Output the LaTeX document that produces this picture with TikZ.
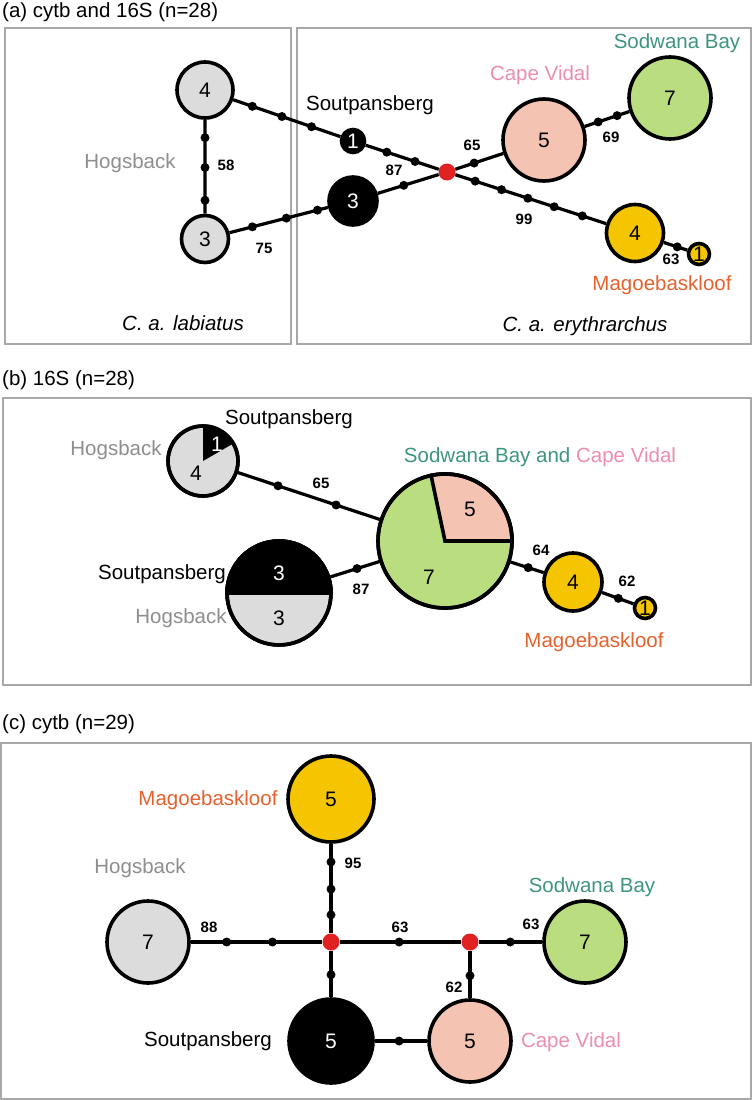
\documentclass[tikz,border=0pt]{standalone}
\usepackage{fontspec}
\setmainfont{Liberation Sans}
\definecolor{hogfill}{HTML}{DCDCDC}
\definecolor{hogtext}{HTML}{8E8E8E}
\definecolor{cvfill}{HTML}{F4C3B2}
\definecolor{cvtext}{HTML}{EC8DB2}
\definecolor{sbfill}{HTML}{BADD80}
\definecolor{sbtext}{HTML}{3E9580}
\definecolor{magfill}{HTML}{F4C500}
\definecolor{magtext}{HTML}{E5622E}
\definecolor{medred}{HTML}{E02222}
\definecolor{boxgray}{HTML}{A8A8A8}
\newcommand{\muts}[3]{\foreach \p [count=\i] in {#3} {\path (#1.center) -- (#2.center) node[mut,pos=\p] (#1-#2-\i) {};}}
\begin{document}
\begin{tikzpicture}[x=1pt,y=1pt,
  hap/.style={circle,draw,line width=3.6pt,inner sep=0pt,font=\fontsize{21}{25}\selectfont},
  num/.style={inner sep=0pt,font=\fontsize{21}{25}\selectfont},
  med/.style={circle,fill=medred,inner sep=0pt,minimum size=17pt},
  mut/.style={circle,fill=black,inner sep=0pt,minimum size=9pt},
  edge/.style={line width=3.2pt},
  ring/.style={line width=3.6pt},
  elab/.style={inner sep=0pt,font=\fontsize{15}{18}\selectfont\bfseries},
  site/.style={inner sep=0pt,font=\fontsize{20.5}{24}\selectfont},
  panel/.style={draw=boxgray,line width=1.2pt}]
\useasboundingbox (0,0) rectangle (752,-1100);
\fill[white] (0,0) rectangle (752,-1100);

\node[site,anchor=west] (ta) at (2,-12) {(a) cytb and 16S (n=28)};
\draw[panel] (5,-28) rectangle (291,-344);
\draw[panel] (297,-28) rectangle (751,-344);
\node[hap,fill=hogfill,minimum size=56pt] (h4) at (205,-90) {4};
\node[hap,fill=hogfill,minimum size=47pt] (h3) at (205,-239) {3};
\node[hap,fill=black,text=white,minimum size=23pt] (s1) at (353,-141) {1};
\node[hap,fill=black,text=white,minimum size=48pt] (s3) at (353,-201) {3};
\node[med] (ra) at (447,-172) {};
\node[hap,fill=cvfill,minimum size=82pt] (cv) at (544,-140) {5};
\node[hap,fill=sbfill,minimum size=82pt] (sb) at (670,-98) {7};
\node[hap,fill=magfill,minimum size=57pt] (m4) at (635,-233) {4};
\node[hap,fill=magfill,minimum size=21pt] (m1) at (699,-254) {1};
\draw[edge] (h4) -- (s1) -- (ra) -- (cv) -- (sb);
\draw[edge] (h4) -- (h3) -- (s3) -- (ra) -- (m4) -- (m1);
\muts{h4}{s1}{.32,.52,.72}
\muts{s1}{ra}{.36,.66}
\muts{h4}{h3}{.32,.52,.74}
\muts{h3}{s3}{.32,.55,.76}
\muts{s3}{ra}{.54}
\muts{ra}{cv}{.28}
\muts{cv}{sb}{.43,.58}
\muts{ra}{m4}{.15,.29,.43,.57,.72}
\muts{m4}{m1}{.66}
\node[elab] (a58) at (226,-165) {58};
\node[elab] (a75) at (264,-248) {75};
\node[elab] (a87) at (394,-170) {87};
\node[elab] (a65) at (472,-145) {65};
\node[elab] (a69) at (611,-137) {69};
\node[elab] (a99) at (524,-219) {99};
\node[elab] (a63) at (671,-259) {63};
\node[site,text=hogtext] (ahog) at (130,-163) {Hogsback};
\node[site] (asou) at (370,-105) {Soutpansberg};
\node[site,text=cvtext] (acv) at (540,-75) {Cape Vidal};
\node[site,text=sbtext] (asb) at (677,-43) {Sodwana Bay};
\node[site,text=magtext] (amag) at (662,-285) {Magoebaskloof};
\node[site,font=\fontsize{20.5}{24}\selectfont\itshape] (alab) at (183,-323) {C. a. labiatus};
\node[site,font=\fontsize{20.5}{24}\selectfont\itshape] (aery) at (585,-326) {C. a. erythrarchus};

\node[site,anchor=west] (tb) at (2,-380) {(b) 16S (n=28)};
\draw[panel] (3,-398) rectangle (751,-685);
\node[hap,fill=hogfill,minimum size=70pt] (pie) at (203,-461) {};
\fill (pie.center) -- ++(90:35pt) arc[start angle=90,end angle=30,radius=35pt] -- cycle;
\draw[ring] (pie.center) circle[radius=35pt];
\node[num,text=white] (pie1) at (217,-444) {1};
\node[num] (pie4) at (196,-473) {4};
\node[hap,fill=hogfill,minimum size=104pt] (half) at (279,-593) {};
\filldraw[fill=black,line width=3.6pt] ([xshift=-52pt]half.center) -- ([xshift=52pt]half.center) arc[start angle=0,end angle=180,radius=52pt] -- cycle;
\draw[ring] (half.center) circle[radius=52pt];
\node[num,text=white] (half3a) at (279,-573) {3};
\node[num] (half3b) at (279,-618) {3};
\node[hap,fill=sbfill,minimum size=134pt] (big) at (445,-541) {};
\filldraw[fill=cvfill,line width=3.6pt] (big.center) -- ++(0:67pt) arc[start angle=0,end angle=102,radius=67pt] -- cycle;
\draw[ring] (big.center) circle[radius=67pt];
\node[num] (big5) at (470,-509) {5};
\node[num] (big7) at (429,-577) {7};
\node[hap,fill=magfill,minimum size=58pt] (bm4) at (573,-582) {4};
\node[hap,fill=magfill,minimum size=21pt] (bm1) at (645,-608) {1};
\draw[edge] (pie) -- (big) -- (bm4) -- (bm1);
\draw[edge] (half) -- (big);
\muts{pie}{big}{.31,.55}
\muts{half}{big}{.47}
\muts{big}{bm4}{.65}
\muts{bm4}{bm1}{.63}
\node[elab] (b65) at (321,-483) {65};
\node[elab] (b87) at (361,-589) {87};
\node[elab] (b64) at (541,-550) {64};
\node[elab] (b62) at (627,-581) {62};
\node[site] (bsou1) at (289,-419) {Soutpansberg};
\node[site,text=hogtext] (bhog1) at (116,-450) {Hogsback};
\node[site] (bsou2) at (162,-574) {Soutpansberg};
\node[site,text=hogtext] (bhog2) at (181,-618) {Hogsback};
\node[site] (bsbcv) at (540,-457) {\textcolor{sbtext}{Sodwana Bay and }\textcolor{cvtext}{Cape Vidal}};
\node[site,text=magtext] (bmag) at (594,-642) {Magoebaskloof};

\node[site,anchor=west] (tc) at (2,-724) {(c) cytb (n=29)};
\draw[panel] (1,-743) rectangle (751,-1099);
\node[hap,fill=magfill,minimum size=86pt] (cm5) at (331,-799) {5};
\node[hap,fill=hogfill,minimum size=82pt] (ch7) at (148,-942) {7};
\node[med] (r1) at (331,-942) {};
\node[med] (r2) at (470,-942) {};
\node[hap,fill=sbfill,minimum size=82pt] (csb) at (585,-942) {7};
\node[hap,fill=black,text=white,minimum size=84pt] (cs5) at (331,-1041) {5};
\node[hap,fill=cvfill,minimum size=82pt] (ccv) at (470,-1041) {5};
\draw[edge] (cm5) -- (r1) -- (cs5) -- (ccv) -- (r2) -- (csb);
\draw[edge] (ch7) -- (r1) -- (r2);
\muts{cm5}{r1}{.44,.63,.81}
\muts{ch7}{r1}{.43,.68}
\muts{r1}{r2}{.49}
\muts{r2}{csb}{.35}
\muts{r2}{ccv}{.34}
\muts{r1}{cs5}{.33}
\muts{cs5}{ccv}{.49}
\node[elab] (c95) at (353,-863) {95};
\node[elab] (c88) at (209,-927) {88};
\node[elab] (c63a) at (400,-927) {63};
\node[elab] (c63b) at (531,-924) {63};
\node[elab] (c62) at (454,-987) {62};
\node[site,text=magtext] (cmag) at (208,-800) {Magoebaskloof};
\node[site,text=hogtext] (chog) at (140,-868) {Hogsback};
\node[site] (csou) at (208,-1041) {Soutpansberg};
\node[site,text=sbtext] (csbl) at (592,-887) {Sodwana Bay};
\node[site,text=cvtext] (ccvl) at (571,-1042) {Cape Vidal};
\end{tikzpicture}
\end{document}
